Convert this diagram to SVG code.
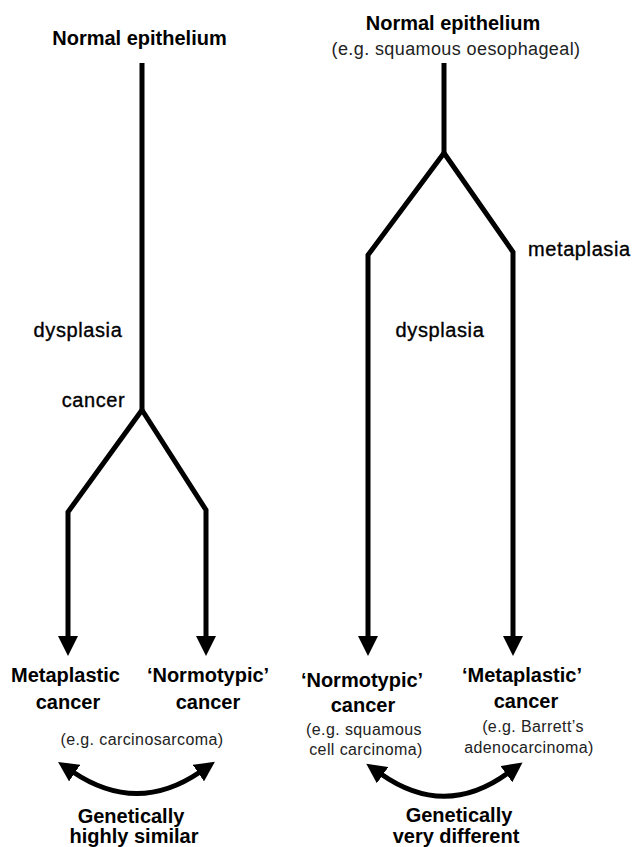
<svg xmlns="http://www.w3.org/2000/svg" width="633" height="847" viewBox="0 0 633 847">
<style>
  .bg { fill: #ffffff; }
  .t { font-family: "Liberation Sans", Arial, sans-serif; fill: #000; }
  .title { font-size: 20px; font-weight: bold; text-anchor: middle; }
  .lbl { font-size: 20px; letter-spacing: 0.6px; stroke: #000; stroke-width: 0.35px; }
  .mid { text-anchor: middle; }
  .small { font-size: 16px; letter-spacing: 0.4px; fill: #222; text-anchor: middle; }
  .sub { font-size: 18px; letter-spacing: 0.4px; fill: #222; text-anchor: middle; }
  .line { fill: none; stroke: #000; stroke-width: 5; stroke-linejoin: miter; stroke-linecap: butt; }
</style>
<defs>
  <marker id="ah" viewBox="0 0 20 20" refX="2" refY="10" markerWidth="20" markerHeight="20" markerUnits="userSpaceOnUse" orient="auto-start-reverse">
    <path d="M0,0 L20,10 L0,20 Z" fill="#000"/>
  </marker>
</defs>
<rect class="bg" x="0" y="0" width="633" height="847"/>

<g id="connectors">
  <path class="line" d="M142,63 V410"/>
  <path class="line" d="M142,410 L68,512 V638" marker-end="url(#ah)"/>
  <path class="line" d="M142,410 L206,510 V638" marker-end="url(#ah)"/>
  <path class="line" d="M444,63 V153"/>
  <path class="line" d="M444,153 L368,255 V638" marker-end="url(#ah)"/>
  <path class="line" d="M444,153 L513,252 V638" marker-end="url(#ah)"/>
  <path class="line" d="M73,772 Q137,815 200,772" marker-start="url(#ah)" marker-end="url(#ah)"/>
  <path class="line" d="M381,774 Q445,819 508,773" marker-start="url(#ah)" marker-end="url(#ah)"/>
</g>

<g id="left-normal">
  <text class="t title" x="139.5" y="45">Normal epithelium</text>
</g>
<g id="left-dysplasia">
  <text class="t lbl mid" x="78" y="337">dysplasia</text>
</g>
<g id="left-cancer">
  <text class="t lbl mid" x="93.5" y="407">cancer</text>
</g>
<g id="left-metaplastic-cancer">
  <text class="t title" x="65.5" y="682">Metaplastic</text>
  <text class="t title" x="68" y="709">cancer</text>
</g>
<g id="left-normotypic-cancer">
  <text class="t title" x="208" y="682">‘Normotypic’</text>
  <text class="t title" x="208" y="709">cancer</text>
</g>
<g id="left-example">
  <text class="t small" x="142" y="745">(e.g. carcinosarcoma)</text>
</g>
<g id="left-genetic">
  <text class="t title" x="131" y="823">Genetically</text>
  <text class="t title" x="134" y="843">highly similar</text>
</g>

<g id="right-normal">
  <text class="t title" x="453" y="30">Normal epithelium</text>
  <text class="t sub" x="456" y="55">(e.g. squamous oesophageal)</text>
</g>
<g id="right-metaplasia">
  <text class="t lbl" x="528" y="256">metaplasia</text>
</g>
<g id="right-dysplasia">
  <text class="t lbl mid" x="440" y="337">dysplasia</text>
</g>
<g id="right-normotypic-cancer">
  <text class="t title" x="362" y="687">‘Normotypic’</text>
  <text class="t title" x="363" y="712">cancer</text>
  <text class="t small" x="364" y="735">(e.g. squamous</text>
  <text class="t small" x="366" y="755">cell carcinoma)</text>
</g>
<g id="right-metaplastic-cancer">
  <text class="t title" x="522" y="682">‘Metaplastic’</text>
  <text class="t title" x="526" y="708">cancer</text>
  <text class="t small" x="533" y="732">(e.g. Barrett’s</text>
  <text class="t small" x="529" y="753">adenocarcinoma)</text>
</g>
<g id="right-genetic">
  <text class="t title" x="459" y="822">Genetically</text>
  <text class="t title" x="456" y="843">very different</text>
</g>
</svg>
